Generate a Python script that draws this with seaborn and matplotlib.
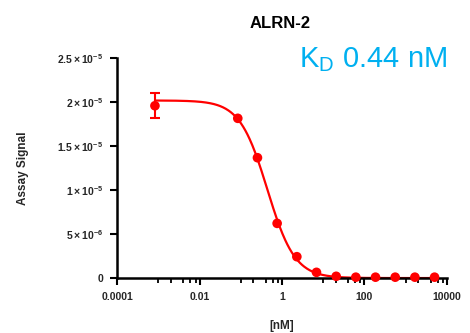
import numpy as np
import pandas as pd
import matplotlib
matplotlib.use("Agg")
import matplotlib.pyplot as plt
import seaborn as sns

# measured points (concentration in nM, assay signal)
conc = [0.00083, 0.0847, 0.254, 0.762, 2.29, 6.86, 20.6, 61.7, 185, 556, 1667, 5000]
signal = [1.96e-5, 1.817e-5, 1.369e-5, 0.622e-5, 0.243e-5, 0.065e-5,
          0.02e-5, 0.01e-5, 0.01e-5, 0.01e-5, 0.01e-5, 0.01e-5]
signal_err = [0.145e-5, 0, 0, 0, 0, 0, 0, 0, 0, 0, 0, 0]

# fitted 4PL parameters
fit_top = 2.02e-5
fit_bottom = 0.0
fit_ic50 = 0.44
fit_hill = 1.3

ytick_vals = [0, 5e-6, 1e-5, 1.5e-5, 2e-5, 2.5e-5]
ytick_labels = ["0", r"$5\times10^{-6}$", r"$1\times10^{-5}$", r"$1.5\times10^{-5}$",
                r"$2\times10^{-5}$", r"$2.5\times10^{-5}$"]
xtick_vals = [1e-4, 1e-2, 1, 1e2, 1e4]
xtick_labels = ["0.0001", "0.01", "1", "100", "10000"]

RED = "#ff0000"
BLUE = "#00b0f0"

sns.set_theme(style="ticks")
plt.rcParams["font.family"] = ["Liberation Sans", "DejaVu Sans"]
plt.rcParams["mathtext.fontset"] = "custom"
plt.rcParams["mathtext.rm"] = "Liberation Sans:bold"
plt.rcParams["mathtext.it"] = "Liberation Sans:bold"
plt.rcParams["mathtext.bf"] = "Liberation Sans:bold"

df = pd.DataFrame({"conc": conc, "signal": signal, "err": signal_err})

# fitted curve from the 4PL parameters
xfit = np.logspace(np.log10(conc[0]), np.log10(conc[-1]), 400)
yfit = fit_bottom + (fit_top - fit_bottom) / (1 + (xfit / fit_ic50) ** fit_hill)
fit_df = pd.DataFrame({"conc": xfit, "signal": yfit})

fig = plt.figure(figsize=(4.7, 3.33), dpi=100)
ax = fig.add_axes([0.249, 0.165, 0.702, 0.66])

sns.lineplot(data=fit_df, x="conc", y="signal", color=RED, linewidth=1.6, ax=ax)
err_rows = df[df["err"] > 0]
ax.errorbar(err_rows["conc"], err_rows["signal"], yerr=err_rows["err"], fmt="none",
            ecolor=RED, elinewidth=1.5, capsize=3.8, capthick=1.5, zorder=3)
sns.scatterplot(data=df, x="conc", y="signal", color=RED, s=48, edgecolor="none",
                ax=ax, zorder=4, clip_on=False)

ax.set_xscale("log")
ax.set_xlim(1e-4, 1e4)
ax.set_ylim(0, 2.5e-5)

ax.set_xticks(xtick_vals)
ax.set_xticklabels(xtick_labels)
minor = []
for k in [-2, 0, 2, 4]:
    for m in [1, 2, 4, 6, 8]:
        minor.append(m * 10.0 ** (k - 1))
ax.set_xticks(minor, minor=True)
ax.set_xticklabels([], minor=True)
ax.set_yticks(ytick_vals)
ax.set_yticklabels(ytick_labels)
ax.yaxis.set_minor_locator(matplotlib.ticker.NullLocator())

for lab in ax.get_xticklabels() + ax.get_yticklabels():
    lab.set_fontweight("bold")
    lab.set_fontsize(7.5)

ax.tick_params(axis="both", which="major", direction="out", length=5, width=1.5,
               color="black", pad=5)
ax.tick_params(axis="x", which="minor", direction="out", length=3.5, width=1.3,
               color="black")

for side in ["left", "bottom"]:
    ax.spines[side].set_linewidth(1.8)
    ax.spines[side].set_color("black")
sns.despine(ax=ax)

ax.set_xlabel("[nM]", fontsize=8.5, fontweight="bold", labelpad=13)
ax.set_ylabel("Assay Signal", fontsize=8.5, fontweight="bold", labelpad=20)

fig.text(0.595, 0.915, "ALRN-2", ha="center", va="baseline", fontsize=12,
         fontweight="bold", color="black")
fig.text(0.951, 0.797, r"K$_{\mathregular{D}}$ 0.44 nM", ha="right", va="baseline",
         fontsize=21, color=BLUE, family="Liberation Sans")

fig.savefig("out.png", dpi=100)
